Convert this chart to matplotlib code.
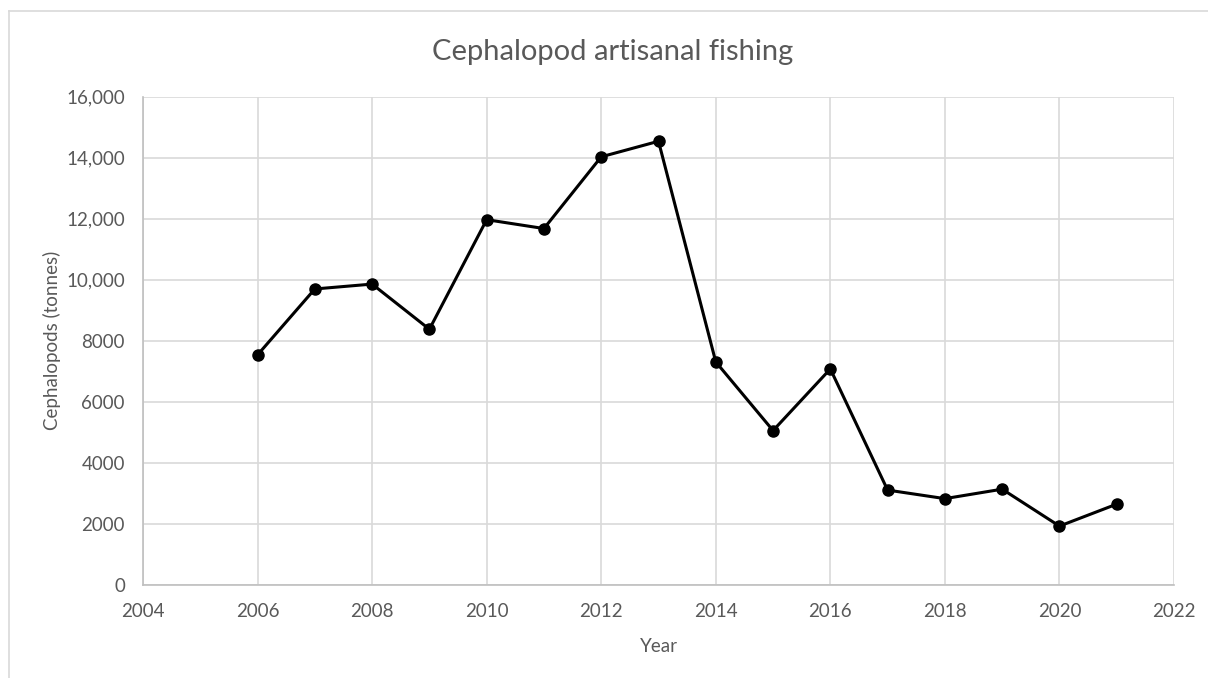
import matplotlib.pyplot as plt
from matplotlib.lines import Line2D
from matplotlib.ticker import FuncFormatter

# data
years = [2006, 2007, 2008, 2009, 2010, 2011, 2012, 2013,
         2014, 2015, 2016, 2017, 2018, 2019, 2020, 2021]
catch = [7540, 9700, 9860, 8380, 11970, 11680, 14030, 14540,
         7310, 5060, 7080, 3110, 2830, 3140, 1930, 2650]
x_ticks = list(range(2004, 2023, 2))
y_ticks = list(range(0, 16001, 2000))

plt.rcParams['font.family'] = ['Lato', 'DejaVu Sans']
grey = '#595959'

fig = plt.figure(figsize=(12.08, 6.78), dpi=100)
ax = fig.add_axes([143/1208, 1 - 585/678, (1174-143)/1208, (585-96.7)/678])

ax.plot(years, catch, color='black', linewidth=2.2, marker='o',
        markersize=8, zorder=3)

ax.set_xlim(2004, 2022)
ax.set_ylim(0, 16000)
ax.set_xticks(x_ticks)
ax.set_yticks(y_ticks)

# excel style: comma only above 9999
def fmt(v, pos):
    v = int(v)
    return f'{v:,}' if v >= 10000 else str(v)
ax.yaxis.set_major_formatter(FuncFormatter(fmt))

ax.grid(True, color='#d9d9d9', linewidth=1.2)
ax.set_axisbelow(True)
for side in ['top', 'right']:
    ax.spines[side].set_visible(False)
for side in ['left', 'bottom']:
    ax.spines[side].set_color('#bfbfbf')
    ax.spines[side].set_linewidth(1.2)
ax.tick_params(length=0, labelsize=13.5, colors=grey)
ax.tick_params(axis='x', pad=13)
ax.tick_params(axis='y', pad=13)

ax.set_xlabel('Year', fontsize=13.5, color=grey, labelpad=13)
ax.set_ylabel('Cephalopods (tonnes)', fontsize=13.5, color=grey, labelpad=4)
fig.text(613/1208, 1 - 52/678, 'Cephalopod artisanal fishing',
         ha='center', va='center', fontsize=21, color=grey)

# chart area border (top and left visible)
fig.add_artist(Line2D([9/1208, 1], [1 - 11/678, 1 - 11/678],
                      color='#d9d9d9', linewidth=1.2))
fig.add_artist(Line2D([9/1208, 9/1208], [0, 1 - 11/678],
                      color='#d9d9d9', linewidth=1.2))

fig.savefig('out.png', dpi=100, facecolor='white')
